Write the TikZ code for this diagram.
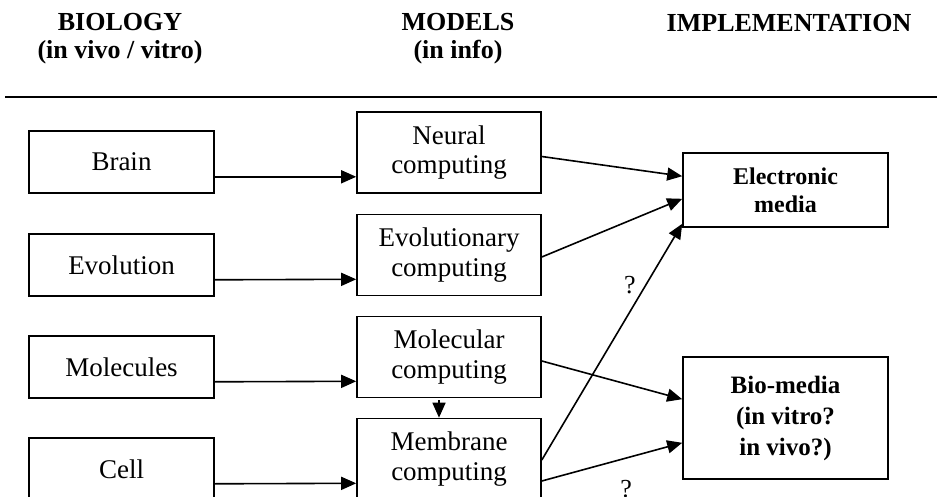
\documentclass[tikz,border=0pt]{standalone}
\usepackage{fontspec}
\setmainfont{Liberation Serif}
\usetikzlibrary{arrows.meta}

\begin{document}
\begin{tikzpicture}[x=1pt,y=-1pt,
  box/.style={draw,line width=1.6pt,inner sep=0pt,align=center,font=\fontsize{27}{29.5}\selectfont},
  biobox/.style={box,minimum width=185pt,minimum height=62pt},
  modbox/.style={box,minimum width=184pt,minimum height=81pt},
  impbox/.style={box,minimum width=205pt,font=\bfseries\fontsize{24}{28}\selectfont},
  head/.style={align=center,font=\bfseries\fontsize{26}{28}\selectfont},
  link/.style={line width=1.6pt,-{Triangle[length=15pt,width=13pt]}}]
\useasboundingbox (0,0) rectangle (937,497);
\clip (0,0) rectangle (937,497);

% Column headings
\node[head] (hbio) at (120,39) {BIOLOGY\\(in vivo / vitro)};
\node[head] (hmod) at (458,39) {MODELS\\(in info)};
\node[head] (himp) at (789,23) {IMPLEMENTATION};
\draw[line width=2pt] (5,97)--(937,97);

% Biology
\node[biobox] (brain) at (121.5,162) {Brain};
\node[biobox] (evolution) at (121.5,265) {Evolution};
\node[biobox] (molecules) at (121.5,367) {Molecules};
\node[biobox] (cell) at (121.5,469) {Cell};

% Models
\node[modbox] (neural) at (449,152.5) {Neural\\computing};
\node[modbox] (evolutionary) at (449,255) {Evolutionary\\computing};
\node[modbox] (molecular) at (449,357) {Molecular\\computing};
\node[modbox] (membrane) at (449,459) {Membrane\\computing};

% Implementation
\node[impbox,minimum height=74pt] (electronic) at (785.5,190) {Electronic\\media};
\node[impbox,minimum height=122pt,font=\bfseries\fontsize{25}{31}\selectfont] (biomedia) at (785.5,418) {Bio-media\\(in vitro?\\in vivo?)};

% Biology to models
\draw[link] ([yshift=17pt]brain.south east)--([yshift=17pt]neural.south west);
\draw[link] ([yshift=17pt]evolution.south east)--([yshift=17pt]evolutionary.south west);
\draw[link] ([yshift=17pt]molecules.south east)--([yshift=17pt]molecular.south west);
\draw[link] ([yshift=17pt]cell.south east)--([yshift=17pt]membrane.south west);
\draw[link] ([xshift=-10pt,yshift=-2pt]molecular.south)--([xshift=-10pt]membrane.north);

% Models to implementation
\draw[link] ([yshift=-4pt]neural.east)--([yshift=-24pt]electronic.north west);
\draw[link] ([yshift=-2pt]evolutionary.east)--([yshift=29pt]electronic.south west);
\draw[link] ([yshift=-4pt]molecular.east)--([yshift=-43pt]biomedia.north west);
\draw[link] ([yshift=-1pt]membrane.east)--([yshift=4pt]electronic.south west)
  node[pos=0.74,left=6pt,font=\fontsize{26}{30}\selectfont] (q1) {?};
\draw[link] ([yshift=-22pt]membrane.east)--([yshift=37pt]biomedia.south west)
  node[pos=0.6,yshift=-31pt,font=\fontsize{26}{30}\selectfont] (q2) {?};
\end{tikzpicture}
\end{document}
